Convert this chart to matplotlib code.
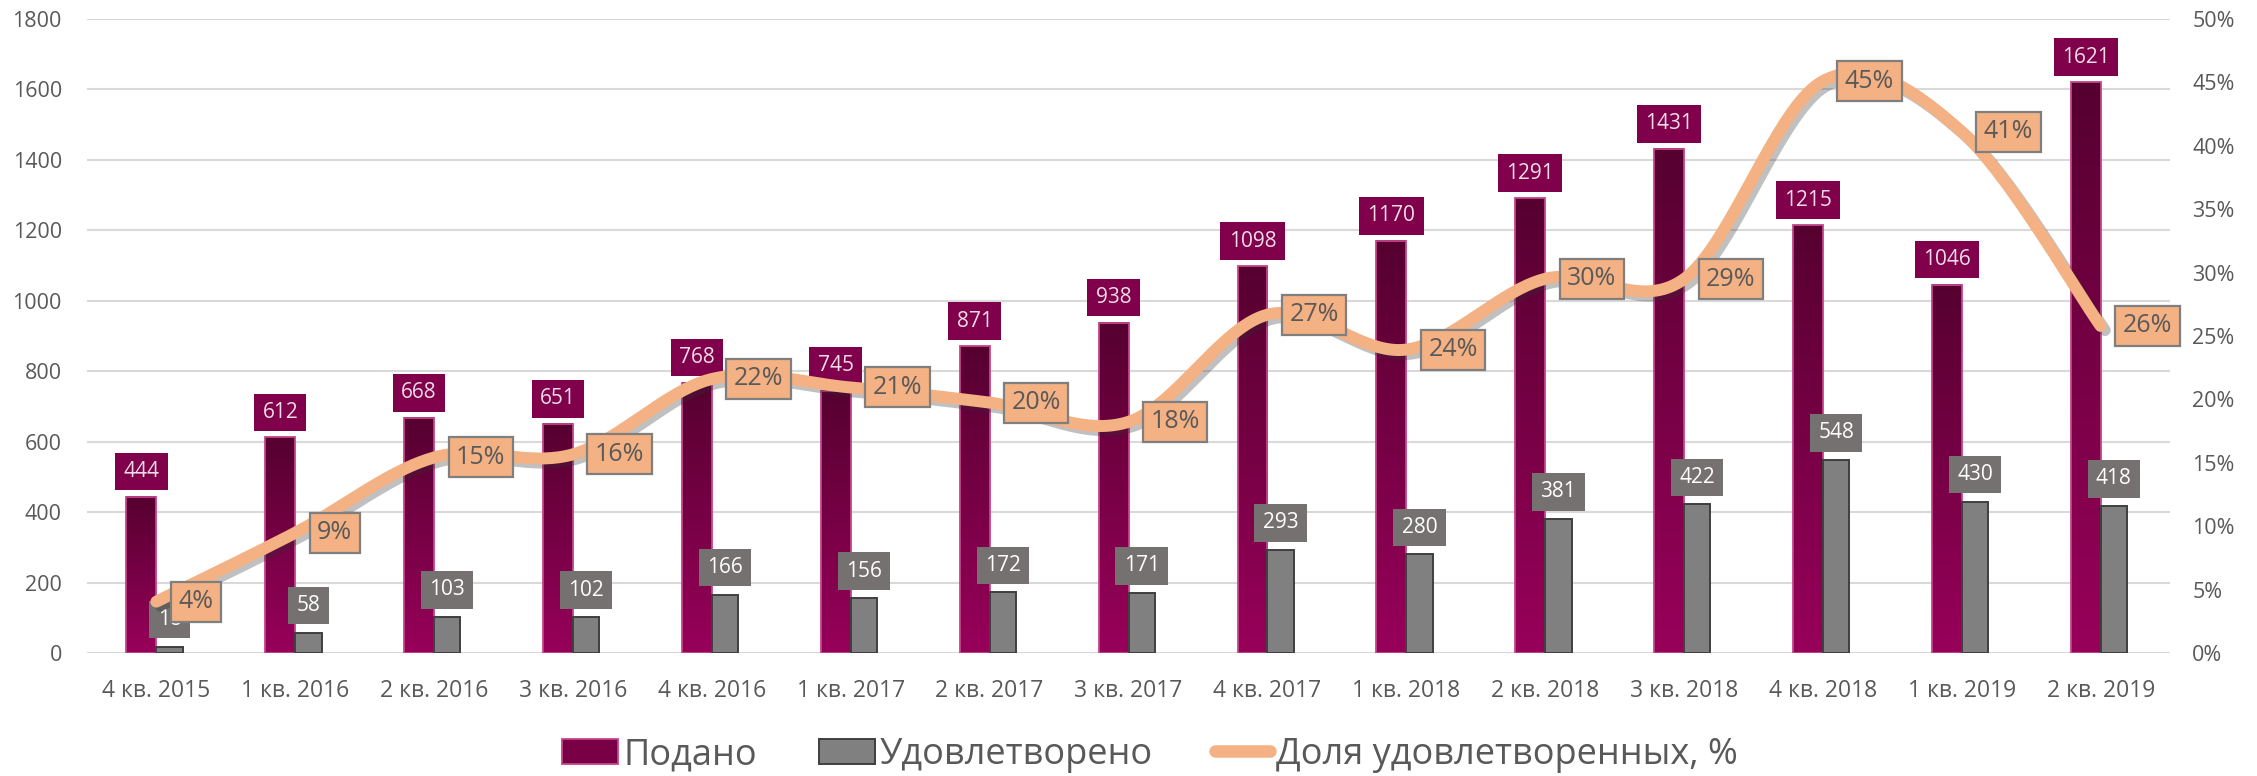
import matplotlib
matplotlib.use("Agg")
import matplotlib.pyplot as plt
import matplotlib.patheffects as pe
import numpy as np
from matplotlib.colors import LinearSegmentedColormap
from matplotlib.lines import Line2D
from matplotlib.patches import Patch

plt.rcParams["font.family"] = ["Open Sans", "DejaVu Sans"]

quarters = ["4 кв. 2015", "1 кв. 2016", "2 кв. 2016", "3 кв. 2016", "4 кв. 2016",
            "1 кв. 2017", "2 кв. 2017", "3 кв. 2017", "4 кв. 2017", "1 кв. 2018",
            "2 кв. 2018", "3 кв. 2018", "4 кв. 2018", "1 кв. 2019", "2 кв. 2019"]
filed = [444, 612, 668, 651, 768, 745, 871, 938, 1098, 1170, 1291, 1431, 1215, 1046, 1621]
granted = [18, 58, 103, 102, 166, 156, 172, 171, 293, 280, 381, 422, 548, 430, 418]
share = [4.05, 9.48, 15.42, 15.67, 21.61, 20.94, 19.75, 18.23, 26.68, 23.93,
         29.51, 29.49, 45.10, 41.11, 25.79]

TEXT = "#595959"
ORANGE = "#f4b183"


def smooth(xs, ys, n=40):
    """Excel-like smoothed line: cubic Bezier with Catmull-Rom control points."""
    pts = np.column_stack([xs, ys]).astype(float)
    t = np.linspace(0, 1, n)[:, None]
    out = []
    for i in range(len(pts) - 1):
        p0 = pts[max(i - 1, 0)]
        p1, p2 = pts[i], pts[i + 1]
        p3 = pts[min(i + 2, len(pts) - 1)]
        c1 = p1 + (p2 - p0) / 6
        c2 = p2 - (p3 - p1) / 6
        seg = (1 - t) ** 3 * p1 + 3 * (1 - t) ** 2 * t * c1 + 3 * (1 - t) * t ** 2 * c2 + t ** 3 * p2
        out.append(seg if i == 0 else seg[1:])
    return np.vstack(out)


fig, ax = plt.subplots(figsize=(22.57, 7.76), dpi=100)
fig.subplots_adjust(left=0.0385, right=0.9615, bottom=0.1585, top=0.9755)

x = np.arange(len(quarters))
w_filed, w_granted = 0.215, 0.19

# purple bars with vertical gradient
cmap = LinearSegmentedColormap.from_list("plum", ["#560030", "#98005a"])
grad = np.linspace(0, 1, 256).reshape(-1, 1)
for i, v in enumerate(filed):
    ax.imshow(grad, cmap=cmap, extent=(i - w_filed, i, 0, v), origin="upper",
              aspect="auto", zorder=2, interpolation="bilinear")
ax.bar(x - w_filed, filed, width=w_filed, align="edge", facecolor="none",
       edgecolor="#c4458a", linewidth=1.3, zorder=3)
ax.bar(x, granted, width=w_granted, align="edge", facecolor="#808080",
       edgecolor="#3f3f3f", linewidth=1.4, zorder=3)

for i, v in enumerate(filed):
    ax.annotate(str(v), (i - w_filed / 2, v), xytext=(0, 25), textcoords="offset pixels",
                ha="center", va="center", fontsize=15, color="#eedde6", zorder=5,
                bbox=dict(boxstyle="square,pad=0.4", fc="#80004b", ec="none"))
for i, v in enumerate(granted):
    ax.annotate(str(v), (i + w_granted / 2, v), xytext=(0, 27), textcoords="offset pixels",
                ha="center", va="center", fontsize=15, color="white", zorder=5,
                bbox=dict(boxstyle="square,pad=0.4", fc="#767171", ec="none"))

ax.set_xlim(-0.5, len(quarters) - 0.5)
ax.set_ylim(0, 1800)
ax.set_yticks(np.arange(0, 1801, 200))
ax.set_xticks(x)
ax.set_xticklabels(quarters)
ax.set_axisbelow(True)
ax.yaxis.grid(True, color="#d9d9d9", linewidth=1.5)
ax.tick_params(axis="both", length=0, labelcolor=TEXT)
ax.tick_params(axis="x", pad=19, labelsize=16.5)
ax.tick_params(axis="y", pad=18, labelsize=15.5)
for s in ax.spines.values():
    s.set_visible(False)

# share line on the secondary axis
ax2 = ax.twinx()
curve = smooth(x, share)
ax2.plot(curve[:, 0], curve[:, 1], color=ORANGE, linewidth=8.6, solid_capstyle="round",
         zorder=3, path_effects=[pe.SimpleLineShadow(offset=(3, -3), shadow_color="#303030", alpha=0.3),
                                 pe.Normal()])
for i, v in enumerate(share):
    ax2.annotate(f"{v:.0f}%", (i, v), xytext=(22, 0), textcoords="offset pixels",
                 ha="left", va="center", fontsize=18, color=TEXT, zorder=6,
                 bbox=dict(boxstyle="square,pad=0.3", fc=ORANGE, ec="#7f7f7f", lw=1.6))
ax2.set_ylim(0, 50)
ax2.set_yticks(np.arange(0, 51, 5))
ax2.set_yticklabels([f"{t}%" for t in range(0, 51, 5)])
ax2.tick_params(axis="y", length=0, labelsize=15.5, labelcolor=TEXT, pad=16)
for s in ax2.spines.values():
    s.set_visible(False)

handles = [
    Patch(facecolor="#7a0046", edgecolor="#c4458a", linewidth=1.3),
    Patch(facecolor="#808080", edgecolor="#3f3f3f", linewidth=1.4),
    Line2D([], [], color=ORANGE, linewidth=9, solid_capstyle="round"),
]
labels = ["Подано", "Удовлетворено", "Доля удовлетворенных, %"]
fig.legend(handles, labels, loc="center", bbox_to_anchor=(0.5095, 0.027), ncol=3,
           frameon=False, fontsize=26, labelcolor=TEXT, handlelength=1.55,
           handleheight=0.7, handletextpad=0.15, columnspacing=1.7)

fig.savefig("out.png", dpi=100)
plt.close(fig)
